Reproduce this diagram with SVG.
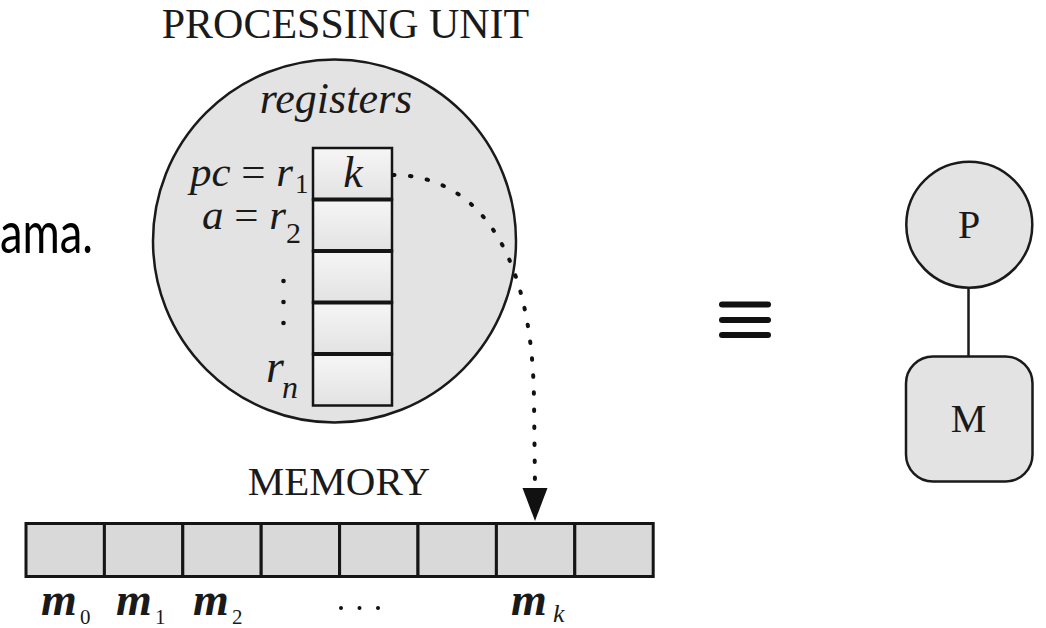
<svg xmlns="http://www.w3.org/2000/svg" width="1046" height="628" viewBox="0 0 1046 628">
<defs>
<linearGradient id="cellg" x1="0" y1="0" x2="0" y2="1">
<stop offset="0" stop-color="#f6f6f6"/>
<stop offset="1" stop-color="#e2e2e2"/>
</linearGradient>
<style>
.serif{font-family:"Liberation Serif","Times New Roman",serif;fill:#1a1a1a}
.it{font-style:italic}
.cell{fill:url(#cellg);stroke:#151515;stroke-width:2.5}
.div{stroke:#151515;stroke-width:4}
.mem{fill:#d9d9d9;stroke:#151515;stroke-width:3}
.node{fill:#e3e3e3;stroke:#1a1a1a;stroke-width:2.5}
.dots{fill:none;stroke:#111;stroke-width:4;stroke-linecap:round;stroke-dasharray:1.5 15.5}
.eq{stroke:#111;stroke-width:6;stroke-linecap:round}
</style>
</defs>
<rect width="1046" height="628" fill="#ffffff"/>

<text x="0" y="253" font-family="Lato, 'Liberation Sans', sans-serif" font-size="58" fill="#000" textLength="93" lengthAdjust="spacingAndGlyphs">ama.</text>

<g id="processing-unit">
<text class="serif" x="345.5" y="38" font-size="42" text-anchor="middle">PROCESSING UNIT</text>
<circle class="node" cx="334.5" cy="241" r="181.5" stroke-width="2.2"/>
<text class="serif it" x="336" y="113" font-size="44" text-anchor="middle">registers</text>
</g>

<g id="registers">
<rect class="cell" x="313" y="148" width="79" height="51.5"/>
<rect class="cell" x="313" y="199.5" width="79" height="51.5"/>
<rect class="cell" x="313" y="251" width="79" height="51.5"/>
<rect class="cell" x="313" y="302.5" width="79" height="51.5"/>
<rect class="cell" x="313" y="354" width="79" height="51.5"/>
<line class="div" x1="313" y1="199.5" x2="392" y2="199.5"/>
<line class="div" x1="313" y1="251" x2="392" y2="251"/>
<line class="div" x1="313" y1="302.5" x2="392" y2="302.5"/>
<line class="div" x1="313" y1="354" x2="392" y2="354"/>
<text class="serif it" x="353" y="187" font-size="44" text-anchor="middle">k</text>
<text class="serif" x="293" y="186" font-size="43" text-anchor="end"><tspan class="it">pc</tspan> = <tspan class="it">r</tspan></text>
<text class="serif" x="295" y="193" font-size="27">1</text>
<text class="serif" x="286" y="229" font-size="43" text-anchor="end"><tspan class="it">a</tspan> = <tspan class="it">r</tspan></text>
<text class="serif" x="286" y="243" font-size="30">2</text>
<circle cx="283.5" cy="281" r="2.3" fill="#111"/>
<circle cx="283.5" cy="302" r="2.3" fill="#111"/>
<circle cx="283.5" cy="323" r="2.3" fill="#111"/>
<text class="serif it" x="266" y="382" font-size="46">r</text>
<text class="serif it" x="282" y="398" font-size="32">n</text>
</g>

<g id="memory">
<text class="serif" x="339" y="495" font-size="41" text-anchor="middle">MEMORY</text>
<rect class="mem" x="26" y="523.5" width="78.4" height="53"/>
<rect class="mem" x="104.4" y="523.5" width="78.4" height="53"/>
<rect class="mem" x="182.8" y="523.5" width="78.4" height="53"/>
<rect class="mem" x="261.2" y="523.5" width="78.4" height="53"/>
<rect class="mem" x="339.6" y="523.5" width="78.4" height="53"/>
<rect class="mem" x="418" y="523.5" width="78.4" height="53"/>
<rect class="mem" x="496.4" y="523.5" width="78.4" height="53"/>
<rect class="mem" x="574.8" y="523.5" width="78.4" height="53"/>
<text class="serif it" x="41" y="615" font-size="46" font-weight="bold">m</text>
<text class="serif" x="80" y="624" font-size="21">0</text>
<text class="serif it" x="116" y="615" font-size="46" font-weight="bold">m</text>
<text class="serif" x="155" y="624" font-size="21">1</text>
<text class="serif it" x="193" y="615" font-size="46" font-weight="bold">m</text>
<text class="serif" x="232" y="624" font-size="21">2</text>
<circle cx="341" cy="608" r="2" fill="#111"/>
<circle cx="359.5" cy="608" r="2" fill="#111"/>
<circle cx="378" cy="608" r="2" fill="#111"/>
<text class="serif it" x="511" y="615" font-size="46" font-weight="bold">m</text>
<text class="serif it" x="553" y="622" font-size="26">k</text>
</g>

<g id="equiv">
<line class="eq" x1="722" y1="304.5" x2="768" y2="304.5"/>
<line class="eq" x1="722" y1="320" x2="768" y2="320"/>
<line class="eq" x1="722" y1="335" x2="768" y2="335"/>
</g>

<g id="P">
<circle class="node" cx="969.3" cy="224.7" r="63"/>
<text class="serif" x="969" y="238" font-size="40" text-anchor="middle">P</text>
</g>
<g id="M">
<rect class="node" x="906" y="356.5" width="126.5" height="125" rx="27"/>
<text class="serif" x="968.5" y="432" font-size="40" text-anchor="middle">M</text>
</g>

<g id="connectors">
<path class="dots" d="M393,175 C470,175 532,240 534,400 L535,486"/>
<polygon points="522.5,488 547.5,488 535,521" fill="#111"/>
<line x1="968.5" y1="287.7" x2="968.5" y2="356.5" stroke="#1a1a1a" stroke-width="2.5"/>
</g>
</svg>
